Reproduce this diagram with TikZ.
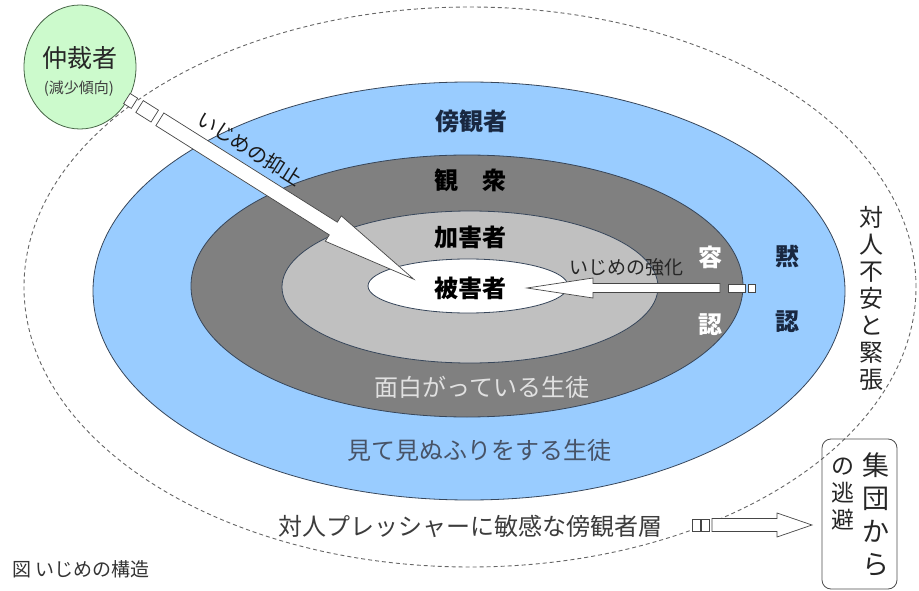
\documentclass[tikz,border=0pt]{standalone}
\usepackage{fontspec}
\newfontfamily\jp{Noto Sans CJK JP}
\usetikzlibrary{shapes.geometric}
\definecolor{blueband}{RGB}{153,204,255}
\definecolor{darkband}{RGB}{128,128,128}
\definecolor{lightband}{RGB}{192,192,192}
\definecolor{ringline}{RGB}{55,70,90}
\definecolor{greenfill}{RGB}{204,250,204}
\definecolor{greenline}{RGB}{70,100,70}
\definecolor{navytext}{RGB}{25,40,65}
\definecolor{paletext}{RGB}{225,225,225}
\definecolor{graytext}{RGB}{60,60,60}
\definecolor{arrowedge}{RGB}{70,70,70}
\begin{document}
\begin{tikzpicture}[x=1pt,y=-1pt,
  ring/.style={ellipse, draw=ringline, line width=0.8pt, inner sep=0pt},
  lbl/.style={font=\jp\bfseries\fontsize{24}{28}\selectfont, inner sep=0pt},
  plain/.style={font=\jp\fontsize{24}{28}\selectfont, inner sep=0pt},
  arrowline/.style={draw=arrowedge, line width=0.7pt, fill=white, line join=miter},
  outerdash/.style={draw=black!60, line width=0.9pt, dash pattern=on 4pt off 3pt}]
\useasboundingbox (0,0) rectangle (919,591);

% outer dashed ellipse
\node[ellipse, outerdash, inner sep=0pt, minimum width=892pt, minimum height=560pt] (outer) at (470,287) {};

% concentric bands
\node[ring, fill=blueband, minimum width=752pt, minimum height=418pt] (bystander) at (469,291) {};
\node[ring, fill=darkband, minimum width=552pt, minimum height=262pt] (audience) at (467,286) {};
\node[ring, fill=lightband, minimum width=376pt, minimum height=152pt] (bully) at (470,287) {};
\node[ring, fill=white, minimum width=200pt, minimum height=54pt] (victim) at (468,286) {};

% mediator circle
\node[ellipse, draw=greenline, line width=0.8pt, fill=greenfill, minimum width=112pt, minimum height=124pt, inner sep=0pt] (med) at (80,67) {};
\node[font=\jp\fontsize{25}{28}\selectfont, text=black!85, inner sep=0pt] (medt) at (80,58) {仲裁者};
\node[font=\jp\fontsize{15}{17}\selectfont, text=black!75, inner sep=0pt] (medt2) at (79,89) {(減少傾向)};

% suppression arrow
\coordinate (supS) at (126,98);
\begin{scope}[shift={(supS)}, rotate=-32.2]
  \draw[arrowline] (1,-6) rectangle (10,6);
  \draw[arrowline] (16,-7) rectangle (34,7);
  \draw[arrowline] (40,-7.5) -- (245,-7.5) -- (245,-15) -- (340,0) -- (245,15) -- (245,7.5) -- (40,7.5) -- cycle;
  \node[transform shape, font=\jp\fontsize{20}{22}\selectfont, text=black!90, inner sep=0pt] (supt) at (132,-23) {いじめの抑止};
\end{scope}

% reinforcement arrow
\draw[arrowline] (748,284) rectangle (755,292);
\draw[arrowline] (728,284) rectangle (745,292);
\draw[arrowline] (720,283.5) -- (593,283.5) -- (593,278) -- (527,288) -- (593,298) -- (593,292.5) -- (720,292.5) -- cycle;
\node[font=\jp\fontsize{19}{21}\selectfont, text=black!85, inner sep=0pt] (reit) at (626,267) {いじめの強化};

% escape arrow
\draw[arrowline] (692,519) rectangle (700,531);
\draw[arrowline] (701,519) rectangle (709,531);
\draw[arrowline] (712,518.5) -- (777,518.5) -- (777,513) -- (812,525) -- (777,537) -- (777,531.5) -- (712,531.5) -- cycle;

% escape box
\node[draw=black!70, line width=0.8pt, rounded corners=9pt, minimum width=75pt, minimum height=150pt, inner sep=0pt] (escbox) at (859.5,514) {};
\node[font=\jp\fontsize{27}{33}\selectfont, align=center, inner sep=0pt, text=black!85] (esc1) at (876,515) {集\\団\\か\\ら};
\node[font=\jp\fontsize{23}{27}\selectfont, align=center, inner sep=0pt, text=black!85] (esc2) at (843,494) {の\\逃\\避};

% band labels
\node[lbl, text=navytext] (l1) at (471,121) {傍観者};
\node[lbl, text=black] (l2) at (470,180) {観　衆};
\node[lbl, text=black] (l3) at (470,237) {加害者};
\node[lbl, text=black] (l4) at (470,288) {被害者};
\node[lbl, text=white] (y1) at (710,257) {容};
\node[lbl, text=white] (y2) at (710,325) {認};
\node[lbl, text=navytext] (m1) at (787,256) {黙};
\node[lbl, text=navytext] (m2) at (787,322) {認};
\node[plain, text=paletext] (fun) at (482,387) {面白がっている生徒};
\node[plain, text=navytext!80] (ign) at (479,450) {見て見ぬふりをする生徒};
\node[font=\jp\fontsize{24}{27}\selectfont, align=center, inner sep=0pt, text=black!85] (anx) at (871,298) {対\\人\\不\\安\\と\\緊\\張};
\node[font=\jp\fontsize{24}{28}\selectfont, text=graytext, inner sep=0pt] (press) at (470,526) {対人プレッシャーに敏感な傍観者層};

% caption
\node[font=\jp\fontsize{19}{22}\selectfont, text=black!80, anchor=west, inner sep=0pt] (cap) at (12,569) {図 いじめの構造};
\end{tikzpicture}
\end{document}
